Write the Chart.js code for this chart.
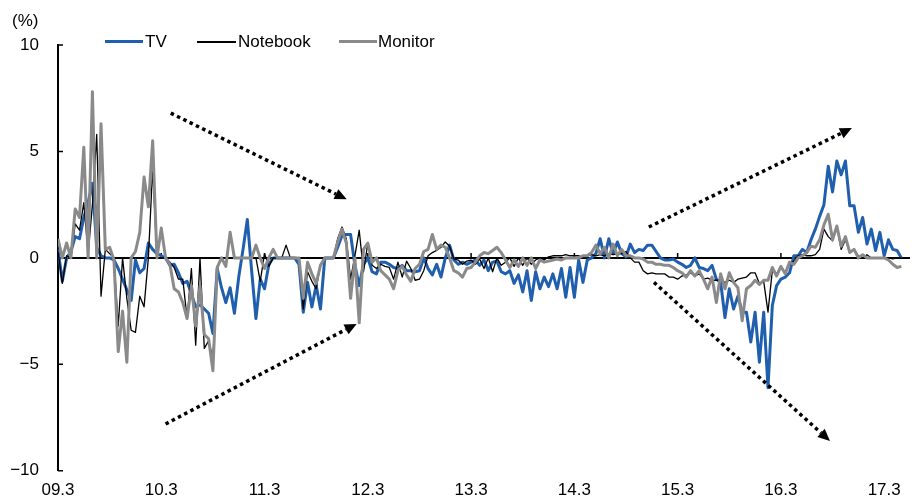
<!DOCTYPE html>
<html>
<head>
<meta charset="utf-8">
<script src="https://cdn.jsdelivr.net/npm/chart.js@4.4.0/dist/chart.umd.min.js"></script>
<style>
  body { margin: 0; background: #fff; }
  #wrap { position: relative; width: 919px; height: 500px; font-family: "Liberation Sans", Arial, sans-serif; color: #000; }
  #wrap canvas { position: absolute; left: 0; top: 0; }
  .unit { position: absolute; left: 12px; top: 11px; font-size: 17px; line-height: 20px; }
  .lg-line { position: absolute; height: 3px; top: 40px; }
  .lg-text { position: absolute; top: 32px; font-size: 17px; line-height: 20px; }
</style>
</head>
<body>
<div id="wrap">
  <canvas id="chart" width="919" height="500"></canvas>
  <div class="unit">(%)</div>
  <div class="lg-line" style="left:105px;width:38px;background:#1f5fad"></div>
  <div class="lg-text" style="left:145px">TV</div>
  <div class="lg-line" style="left:197px;width:39px;height:2px;top:41px;background:#000"></div>
  <div class="lg-text" style="left:238px">Notebook</div>
  <div class="lg-line" style="left:339px;width:38px;background:#8a8a8a"></div>
  <div class="lg-text" style="left:378px">Monitor</div>
</div>
<script>
// half-monthly change, 09.3 ~ 17.5 (24 points a year)
const xTickLabels = ['09.3', '10.3', '11.3', '12.3', '13.3', '14.3', '15.3', '16.3', '17.3']
const yTickLabels = { '-10': '\u221210', '-5': '\u22125', '0': '0', '5': '5', '10': '10' }
const pointsPerYear = 24

const tvData = [
  0.4, -1.1, 0, 0.3, 1.0, 0.9, 1.9, 2.6, 3.5, 0.5,
  0.1, 0, 0, -0.1, -0.5, -1.0, -1.5, -2.0, -0.1, -0.7,
  -0.5, 0.7, 0.4, 0.2, 0.1, 0, -0.35, -0.3, -0.7, -1.2,
  -1.1, -1.7, -2.3, -2.2, -2.4, -2.6, -3.55, -0.5, -1.4, -2.1,
  -1.4, -2.6, -0.9, 0.4, 1.8, -0.6, -2.85, -1.0, -1.45, -0.3,
  0, 0, 0, 0, 0, 0, -0.3, -2.55, -1.15, -2.3,
  -1.3, -2.4, 0, 0, 0, 0.5, 1.05, 1.1, 1.1, -0.35,
  -1.3, -0.3, 0, -0.65, -0.75, -0.2, -0.2, -0.3, -0.45, -0.5,
  -0.35, -0.6, -0.6, -0.65, -0.6, 0, -0.5, -0.8, -0.3, -0.9,
  0, 0.6, -0.1, -0.3, -0.2, -0.3, -0.2, -0.1, -0.35, -0.1,
  -0.6, -0.2, -0.15, -0.65, -0.75, -0.6, -1.2, -0.8, -1.6, -0.6,
  -2.0, -0.65, -1.45, -0.9, -1.35, -0.75, -1.45, -0.5, -1.85, -0.45,
  -1.85, -0.1, -1.15, -0.1, 0, 0.2, 0.9, 0, 0.9, 0.2,
  0.75, 0.2, 0.05, 0.65, 0.25, 0.4, 0.35, 0.6, 0.6, 0.3,
  0, -0.1, -0.1, -0.05, -0.2, -0.3, -0.45, -0.35, 0, -0.45,
  -0.5, -0.6, -0.35, -1.0, -1.15, -2.8, -1.45, -2.4, -1.8, -2.55,
  -2.55, -3.95, -2.55, -4.9, -2.55, -6.1, -2.25, -1.3, -1.0, -0.9,
  -0.7, 0.1, 0.1, 0.4, 0.25, 0.85, 1.35, 1.95, 2.5, 4.3,
  3.1, 4.55, 3.9, 4.55, 2.45, 2.45, 1.2, 1.9, 0.65, 1.35,
  0.35, 1.2, 0.1, 0.85, 0.4, 0.35, 0
]
const notebookData = [
  0.3, -1.2, 0.1, 0, 1.6, 1.3, 2.6, 0.2, 2.5, 5.8,
  -1.8, 0.4, 0.2, 0, -3.2, 0, -1.9, -3.4, -3.5, -1.8,
  -2.3, 0, 4.2, 0, 0, 0, -0.2, -0.45, -1.0, -1.0,
  -2.85, -0.5, -4.1, 0, -4.25, -3.9, -4.7, -0.5, 0, 0,
  0, 0, 0, 0, 0, 0, 0, -1.1, 0.2, -0.4,
  0, 0, 0, 0.6, 0, 0, 0, -2.4, -0.65, -1.1,
  -1.45, -0.3, 0, 0, 0, 0.9, 1.45, 0.9, -1.0, 0.1,
  1.3, -0.65, 0.7, -0.35, -0.5, -0.3, -0.4, -0.45, -1.0, -0.2,
  -0.9, -0.15, -0.5, -1.05, -1.0, -0.6, 0.1, 0.25, 0.35, 0.5,
  0.75, 0.55, -0.05, -0.1, -0.3, -0.15, -0.1, -0.3, -0.05, -0.5,
  0, -0.65, 0, -0.35, -0.2, 0, -0.4, 0, -0.35, 0,
  -0.3, -0.1, 0, -0.1, 0.05, 0.1, 0.1, 0.1, 0.15, 0.1,
  0.1, 0.1, 0.05, 0.1, 0.15, 0.1, 0.15, 0.1, 0.2, 0.15,
  0.2, 0.2, 0.3, 0, -0.2, -0.2, -0.6, -0.75, -0.7, -0.75,
  -0.75, -0.75, -0.9, -0.9, -1.0, -0.85, -0.8, -0.7, -0.85, -0.75,
  -1.0, -0.95, -1.05, -1.05, -1.05, -1.15, -1.05, -1.15, -1.0, -0.95,
  -0.9, -0.7, -0.7, -1.2, -1.1, -2.55, -0.6, -0.75, -0.4, -0.7,
  -0.3, -0.15, 0.1, 0.15, 0.1, 0.1, 0.15, 0.4, 1.35, 1.0,
  0.8, 1.5, 0.4, 0.85, 0.25, 0.4, 0.1, 0, 0.15, 0,
  0, 0, 0, 0, -0.05, 0, 0
]
const monitorData = [
  0.9, 0, 0.7, 0, 2.3, 1.9, 5.2, 0, 7.8, 0,
  6.3, 0.4, 0.5, -0.1, -4.4, -2.5, -4.9, 0, 0.3, 1.2,
  3.8, 2.4, 5.5, 0, 1.4, 0, -0.3, -1.45, -1.6, -2.1,
  -2.85, -1.3, -3.2, -1.3, -3.6, -3.8, -5.3, -0.45, 0, -0.4,
  1.2, 0, 0, 0, 0, 0, 0.6, 0, -0.5, 0,
  0.4, 0, 0, 0, 0, 0, 0, -1.9, -0.2, -0.75,
  -1.2, -0.35, 0, 0, 0, 0.75, 1.35, 0.7, -1.9, 0,
  -3.05, 0.4, 0.7, -0.2, 0, -0.6, -0.8, -1.0, -1.45, -0.6,
  -0.4, -0.8, -1.1, -0.5, -0.3, 0.3, 0.4, 1.1, 0.4, 0.6,
  0.5, 0, -0.6, -0.7, -0.9, -0.5, -0.45, -0.2, 0.1, 0.25,
  0.2, 0.35, 0.5, 0.25, -0.1, -0.45, -0.1, -0.4, 0, -0.35,
  0, -0.5, -0.1, -0.2, -0.15, -0.1, -0.05, -0.1, 0, 0,
  0, 0, 0.1, 0.1, 0.25, 0.6, 0.2, 0.5, 0, 0.65,
  0.1, 0.4, 0.1, 0.1, 0, 0, -0.05, -0.2, -0.2, -0.3,
  -0.3, -0.35, -0.35, -0.45, -0.6, -0.7, -0.9, -0.6, -0.85, -0.6,
  -1.0, -1.45, -0.9, -2.1, -0.75, -1.45, -0.7, -1.15, -1.4, -2.95,
  -1.45, -1.3, -1.05, -1.25, -1.05, -1.05, -0.45, -0.85, -0.4, -0.75,
  -0.2, -0.3, 0, 0.1, 0.25, 0.55, 0.5, 0.85, 1.55, 2.05,
  0.85, 1.5, 0.55, 1.0, 0.25, 0.4, 0, 0.15, 0, 0,
  0, 0, 0, -0.1, -0.3, -0.45, -0.4
]

// dotted trend arrows, [from, to] in (point index, %)
const trendArrows = [
  [[26.2, 6.8], [67.1, 2.75]],
  [[25, -7.8], [69.4, -3.1]],
  [[137.3, 1.45], [184.5, 6.1]],
  [[138.5, -1.15], [179.4, -8.6]]
]

const toXY = arr => arr.map((v, i) => ({ x: i, y: v }))
const font = { family: '"Liberation Sans", Arial, sans-serif', size: 17 }

const axisDeco = {
  id: 'axisDeco',
  beforeDatasetsDraw(chart) {
    const { ctx, chartArea: a, scales: { x, y } } = chart
    const y0 = y.getPixelForValue(0)
    ctx.save()
    ctx.strokeStyle = '#000'
    ctx.lineWidth = 2
    ctx.beginPath()
    ctx.moveTo(a.left, y0)
    ctx.lineTo(a.right, y0)
    ctx.stroke()
    ctx.lineWidth = 1.5
    ctx.beginPath()
    // year ticks on the zero line
    xTickLabels.forEach((l, k) => {
      const px = x.getPixelForValue(k * pointsPerYear)
      ctx.moveTo(px, y0)
      ctx.lineTo(px, y0 - 5)
    })
    // inner ticks on the y axis
    Object.keys(yTickLabels).forEach(v => {
      const py = y.getPixelForValue(+v)
      ctx.moveTo(a.left, py)
      ctx.lineTo(a.left + 5, py)
    })
    ctx.stroke()
    ctx.restore()
  },
  afterDatasetsDraw(chart) {
    const { ctx, scales: { x, y } } = chart
    ctx.save()
    ctx.fillStyle = '#000'
    ctx.strokeStyle = '#000'
    trendArrows.forEach(([p, q]) => {
      const x1 = x.getPixelForValue(p[0]), y1 = y.getPixelForValue(p[1])
      const x2 = x.getPixelForValue(q[0]), y2 = y.getPixelForValue(q[1])
      const ang = Math.atan2(y2 - y1, x2 - x1)
      const head = 12
      ctx.setLineDash([3.5, 3.5])
      ctx.lineWidth = 3.5
      ctx.beginPath()
      ctx.moveTo(x1, y1)
      ctx.lineTo(x2 - head * Math.cos(ang), y2 - head * Math.sin(ang))
      ctx.stroke()
      ctx.setLineDash([])
      ctx.beginPath()
      ctx.moveTo(x2, y2)
      ctx.lineTo(x2 - head * Math.cos(ang) + 5.5 * Math.sin(ang), y2 - head * Math.sin(ang) - 5.5 * Math.cos(ang))
      ctx.lineTo(x2 - head * Math.cos(ang) - 5.5 * Math.sin(ang), y2 - head * Math.sin(ang) + 5.5 * Math.cos(ang))
      ctx.closePath()
      ctx.fill()
    })
    ctx.restore()
  }
}

new Chart(document.getElementById('chart'), {
  type: 'line',
  data: {
    datasets: [
      { label: 'TV', data: toXY(tvData), borderColor: '#1f5fad', borderWidth: 3, order: 3 },
      { label: 'Notebook', data: toXY(notebookData), borderColor: '#000', borderWidth: 1.3, order: 2 },
      { label: 'Monitor', data: toXY(monitorData), borderColor: '#8a8a8a', borderWidth: 3, order: 1 }
    ]
  },
  options: {
    responsive: false,
    animation: false,
    devicePixelRatio: 1,
    layout: { padding: { top: 45, right: 9, left: 0, bottom: 0 } },
    elements: { point: { radius: 0 }, line: { tension: 0, borderJoinStyle: 'round' } },
    plugins: { legend: { display: false }, tooltip: { enabled: false } },
    scales: {
      x: {
        type: 'linear',
        min: 0,
        max: 198,
        grid: { display: false, drawTicks: false },
        border: { display: false },
        afterBuildTicks: s => { s.ticks = xTickLabels.map((l, k) => ({ value: k * pointsPerYear })) },
        afterFit: s => { s.height = 29 },
        ticks: {
          autoSkip: false,
          maxRotation: 0,
          padding: 9,
          color: '#000',
          font: font,
          callback: v => xTickLabels[Math.round(v / pointsPerYear)]
        }
      },
      y: {
        min: -10,
        max: 10,
        grid: { display: false, drawTicks: false },
        border: { display: true, color: '#000', width: 2 },
        afterFit: s => { s.width = 58 },
        ticks: {
          stepSize: 5,
          padding: 19,
          color: '#000',
          font: font,
          callback: v => yTickLabels[v]
        }
      }
    }
  },
  plugins: [axisDeco]
})
</script>
</body>
</html>
